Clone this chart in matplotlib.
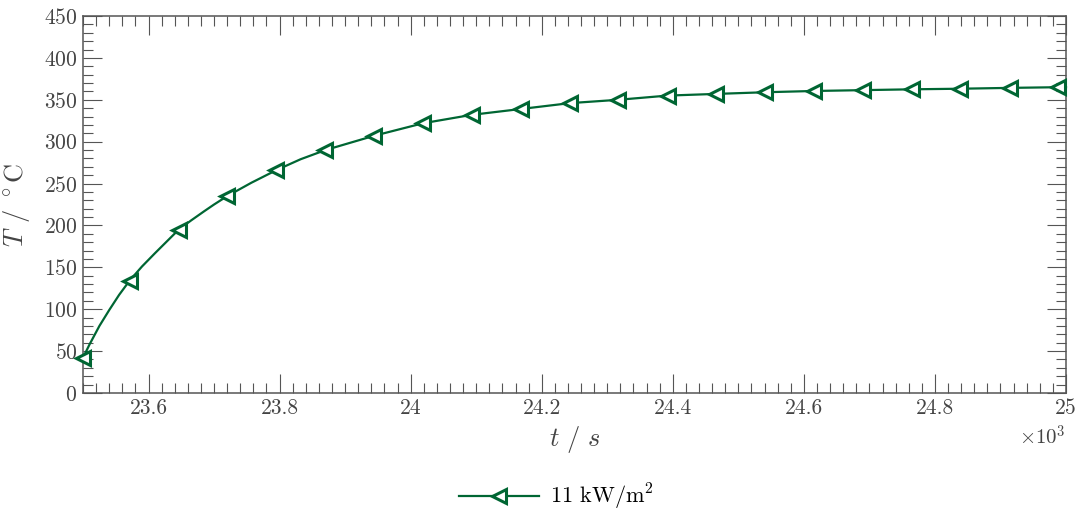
import matplotlib
matplotlib.use("Agg")
import matplotlib.pyplot as plt
from matplotlib.ticker import MultipleLocator, FuncFormatter

plt.rcParams['font.family'] = 'serif'
plt.rcParams['font.serif'] = ['cmr10']
plt.rcParams['mathtext.fontset'] = 'cm'
plt.rcParams['axes.unicode_minus'] = False
plt.rcParams['axes.formatter.use_mathtext'] = True

# line samples (s, degC)
t_line = [23500, 23510, 23525, 23540, 23555, 23571, 23590, 23610, 23628, 23646,
          23665, 23685, 23700, 23720, 23757, 23795, 23832, 23870,
          23944, 24019, 24093, 24168, 24243, 24317, 24392, 24466, 24541, 24615,
          24690, 24765, 24839, 24914, 24988, 25000]
T_line = [42, 58, 80, 99, 117, 134, 151, 167, 181, 195,
          206, 217, 225, 235, 251, 266, 279, 290,
          307, 322, 332, 339, 346, 350, 355, 357, 359, 360.5,
          361.5, 362.5, 363.2, 364.2, 365, 365]
marker_idx = [0, 5, 9, 13, 15, 17, 18, 19, 20, 21, 22, 23, 24, 25, 26, 27, 28, 29, 30, 31, 32]
series_label = '11 kW/m$^2$'

green = '#006633'
gray = '#555555'
txt = '#444444'

fig = plt.figure(figsize=(10.78, 5.11), dpi=100)
ax = fig.add_axes([83/1078, 1-393/511, (1066-83)/1078, (393-16)/511])

ax.plot(t_line, T_line, color=green, lw=1.6, marker='<', markevery=marker_idx,
        ms=10.5, mew=2.2, mfc='white', mec=green, clip_on=False, label=series_label, zorder=3)

ax.set_xlim(23500, 25000)
ax.set_ylim(0, 450)
ax.xaxis.set_major_locator(MultipleLocator(200))
ax.xaxis.set_minor_locator(MultipleLocator(20))
ax.yaxis.set_major_locator(MultipleLocator(50))
ax.yaxis.set_minor_locator(MultipleLocator(10))
ax.xaxis.set_major_formatter(FuncFormatter(lambda v, p: f"{v/1000:g}"))

ax.tick_params(which='both', direction='in', top=True, right=True, color=gray,
               labelcolor=txt, labelsize=15.5)
ax.tick_params(which='major', length=13.5, width=0.8, pad=4)
ax.tick_params(which='minor', length=7.2, width=0.8)
for s in ax.spines.values():
    s.set_color(gray)
    s.set_linewidth(1.1)

ax.set_xlabel(r'$t\ /\ s$', fontsize=19, color=txt, labelpad=4)
ax.set_ylabel(r'$T$ / $^\circ$C', fontsize=19, color=txt)
ax.yaxis.set_label_coords(-0.052, 0.5)
ax.text(1.0, -0.085, r'$\times10^{3}$', transform=ax.transAxes, ha='right', va='top',
        fontsize=15, color=txt)

fig.legend(loc='center', bbox_to_anchor=(556/1078, 1-497/511), frameon=False,
           fontsize=16, handlelength=3.6, handletextpad=0.5)

fig.savefig('out.png', dpi=100)
